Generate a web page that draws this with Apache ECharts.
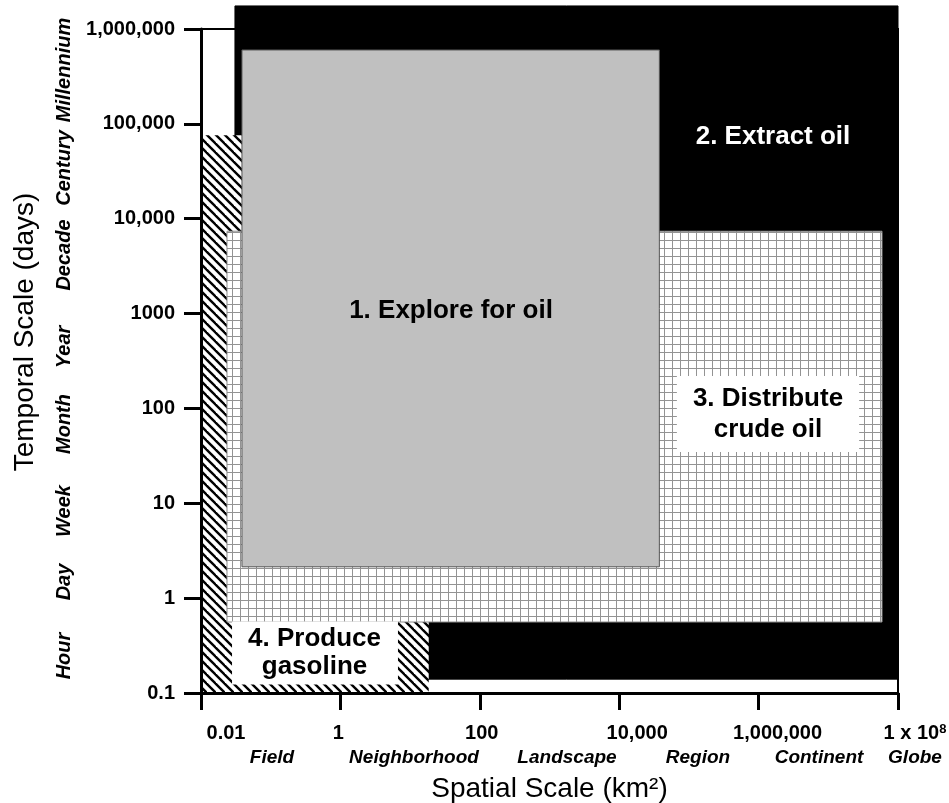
<!DOCTYPE html>
<html>
<head>
<meta charset="utf-8">
<title>Oil supply chain scales</title>
<script src="https://cdn.jsdelivr.net/npm/echarts@6/dist/echarts.min.js"></script>
<style>
    html, body { margin: 0; padding: 0; background: #fff; }
    #chart { width: 949px; height: 803px; }
</style>
</head>
<body>
<div id="chart"></div>
<script>
// extent of each activity: spatial scale (km2) and temporal scale (days)
const regionNames = ['1. Explore for oil', '2. Extract oil', '3. Distribute\ncrude oil', '4. Produce\ngasoline'];
const spatialMin = [0.0387, 0.0307, 0.0236, 0.01];
const spatialMax = [37700, 1e8, 5.9e7, 18.5];
const temporalMin = [2.14, 0.14, 0.56, 0.1];
const temporalMax = [601000, 1.75e6, 7380, 76000];

// tick labels and the named scales under / beside the axes
const xTickLabels = ['0.01', '1', '100', '10,000', '1,000,000', '1 x 10^8'];
const yTickLabels = ['0.1', '1', '10', '100', '1000', '10,000', '100,000', '1,000,000'];
const spatialNames = ['Field', 'Neighborhood', 'Landscape', 'Region', 'Continent', 'Globe'];
const temporalNames = ['Hour', 'Day', 'Week', 'Month', 'Year', 'Decade', 'Century', 'Millennium'];

const FONT = '"Liberation Sans", Arial, sans-serif';

// small canvas tiles used as fill patterns
function hatchTile() {
    const s = 9;
    const c = document.createElement('canvas');
    c.width = s; c.height = s;
    const ctx = c.getContext('2d');
    ctx.fillStyle = '#fff';
    ctx.fillRect(0, 0, s, s);
    ctx.strokeStyle = '#000';
    ctx.lineWidth = 2.4;
    for (const k of [-s, 0, s]) {
        ctx.beginPath();
        ctx.moveTo(k - 2, -2);
        ctx.lineTo(k + s + 2, s + 2);
        ctx.stroke();
    }
    return c;
}
function gridTile() {
    const s = 8;
    const c = document.createElement('canvas');
    c.width = s; c.height = s;
    const ctx = c.getContext('2d');
    ctx.fillStyle = '#fff';
    ctx.fillRect(0, 0, s, s);
    ctx.fillStyle = '#939393';
    ctx.fillRect(0, 0, s, 1);
    ctx.fillRect(0, 0, 1, s);
    return c;
}

const fills = ['#c0c0c0', '#000', { image: gridTile(), repeat: 'repeat' }, { image: hatchTile(), repeat: 'repeat' }];
const strokes = ['#555', '#000', '#8c8c8c', null];
const drawOrder = [1, 3, 2, 0]; // black at the back, grey on top

// x tick labels are not centred on their ticks in the original
const xLabelShift = [25, -2, 2, 18, 19, 17];
const xRich = { sup: { fontSize: 13, fontWeight: 'bold', fontFamily: FONT, color: '#000', verticalAlign: 'top', padding: [0, 0, 8, 0] } };
xLabelShift.forEach((d, i) => {
    xRich['t' + i] = {
        fontSize: 20, fontWeight: 'bold', fontFamily: FONT, color: '#000',
        padding: d >= 0 ? [0, 0, 0, 2 * d] : [0, -2 * d, 0, 0]
    };
});

const chart = echarts.init(document.getElementById('chart'));

const series = drawOrder.map(i => ({
    type: 'custom',
    name: regionNames[i],
    coordinateSystem: 'cartesian2d',
    clip: false,
    silent: true,
    z: 2 + drawOrder.indexOf(i),
    encode: { x: [0, 1], y: [2, 3] },
    data: [[spatialMin[i], spatialMax[i], temporalMin[i], temporalMax[i]]],
    renderItem(params, api) {
        const tl = api.coord([api.value(0), api.value(3)]);
        const br = api.coord([api.value(1), api.value(2)]);
        return {
            type: 'rect',
            shape: { x: tl[0], y: tl[1], width: br[0] - tl[0], height: br[1] - tl[1] },
            style: { fill: fills[i], stroke: strokes[i], lineWidth: 1 }
        };
    }
}));

const spatialNameX = [272, 414, 567, 698, 819, 915];
const temporalNameY = [656, 582, 511, 424, 347, 255, 168, 70];

const graphic = [];
spatialNames.forEach((n, i) => {
    graphic.push({
        type: 'text', x: spatialNameX[i], y: 758, z: 20,
        style: { text: n, fontSize: 19, fontWeight: 'bold', fontStyle: 'italic', fontFamily: FONT, fill: '#000', align: 'center', verticalAlign: 'middle' }
    });
});
temporalNames.forEach((n, i) => {
    graphic.push({
        type: 'text', x: 64, y: temporalNameY[i], rotation: Math.PI / 2, z: 20,
        style: { text: n, fontSize: 20, fontWeight: 'bold', fontStyle: 'italic', fontFamily: FONT, fill: '#000', align: 'center', verticalAlign: 'middle' }
    });
});
// activity labels
graphic.push(
    {
        type: 'text', x: 451, y: 311, z: 20,
        style: { text: regionNames[0], fontSize: 26, fontWeight: 'bold', fontFamily: FONT, fill: '#000', align: 'center', verticalAlign: 'middle' }
    },
    {
        type: 'text', x: 773, y: 137, z: 20,
        style: { text: regionNames[1], fontSize: 26, fontWeight: 'bold', fontFamily: FONT, fill: '#fff', align: 'center', verticalAlign: 'middle' }
    },
    {
        type: 'text', x: 768, y: 414, z: 20,
        style: {
            text: regionNames[2], fontSize: 26, fontWeight: 'bold', fontFamily: FONT, fill: '#000',
            align: 'center', verticalAlign: 'middle', lineHeight: 31,
            backgroundColor: '#fff', padding: [7, 16, 7, 16]
        }
    },
    {
        type: 'text', x: 315, y: 653, z: 20,
        style: {
            text: regionNames[3], fontSize: 26, fontWeight: 'bold', fontFamily: FONT, fill: '#000',
            align: 'center', verticalAlign: 'middle', lineHeight: 28,
            backgroundColor: '#fff', padding: [4, 17, 3, 16]
        }
    }
);

chart.setOption({
    backgroundColor: '#fff',
    animation: false,
    grid: {
        left: 201, right: 51, top: 29, bottom: 110,
        outerBoundsMode: 'none',
        containLabel: false,
        show: true, borderColor: '#000', borderWidth: 2, backgroundColor: 'transparent'
    },
    xAxis: {
        type: 'log',
        logBase: 100,
        min: 0.01,
        max: 1e8,
        splitNumber: 5,
        z: 10,
        axisLine: { show: true, onZero: false, lineStyle: { color: '#000', width: 3 } },
        axisTick: { show: true, length: 17, lineStyle: { color: '#000', width: 3 } },
        splitLine: { show: false },
        axisLabel: {
            margin: 30,
            rich: xRich,
            formatter(v) {
                const i = Math.round(Math.log10(v) / 2) + 1;
                const t = xTickLabels[i] || '';
                const parts = t.split('^');
                return '{t' + i + '|' + parts[0] + '}' + (parts[1] ? '{sup|' + parts[1] + '}' : '');
            }
        },
        name: 'Spatial Scale (km²)',
        nameLocation: 'middle',
        nameGap: 82,
        nameTextStyle: { fontSize: 28, fontFamily: FONT, color: '#000' }
    },
    yAxis: {
        type: 'log',
        logBase: 10,
        min: 0.1,
        max: 1e6,
        splitNumber: 7,
        z: 10,
        axisLine: { show: true, onZero: false, lineStyle: { color: '#000', width: 3 } },
        axisTick: { show: true, length: 17, lineStyle: { color: '#000', width: 3 } },
        splitLine: { show: false },
        axisLabel: {
            margin: 26,
            fontSize: 20,
            fontWeight: 'bold',
            fontFamily: FONT,
            color: '#000',
            formatter(v) {
                return yTickLabels[Math.round(Math.log10(v)) + 1] || '';
            }
        },
        name: 'Temporal Scale (days)',
        nameLocation: 'middle',
        nameGap: 162,
        nameTextStyle: { fontSize: 28, fontFamily: FONT, color: '#000', padding: [0, 0, 0, 58] }
    },
    graphic: graphic,
    series: series
});
</script>
</body>
</html>
